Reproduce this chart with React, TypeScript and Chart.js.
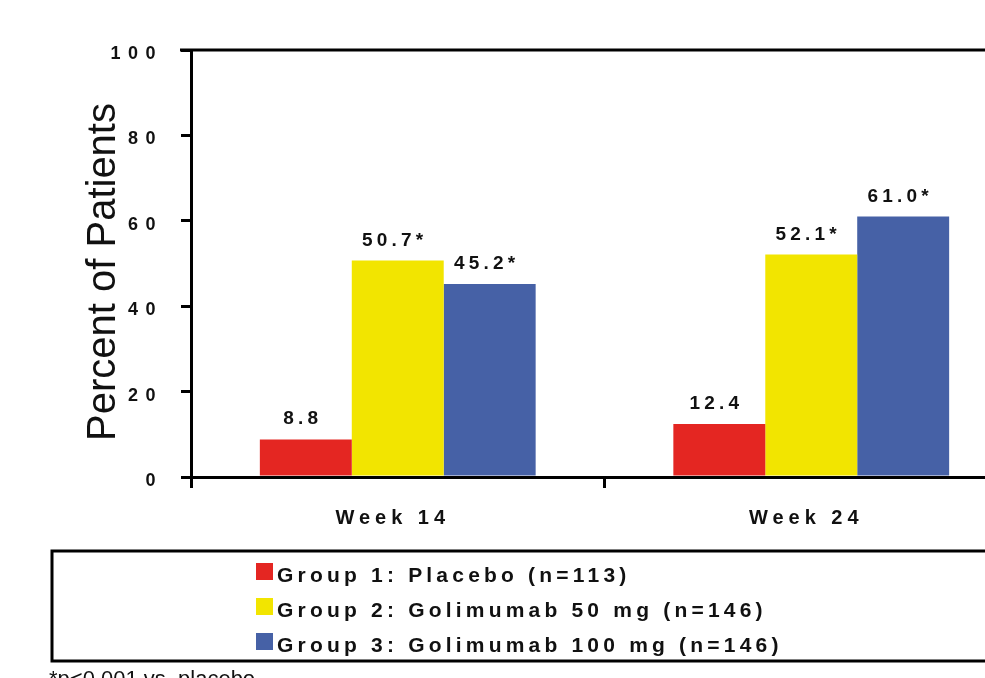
import React, { useEffect, useRef } from 'react';
import { Chart, registerables } from 'chart.js';

Chart.register(...registerables);

const FONT = '"Liberation Sans", Arial, Helvetica, sans-serif';

// Response rates (% of patients) per visit
const categories = ['Week 14', 'Week 24'];
const placeboPct = [8.8, 12.4];
const golimumab50Pct = [50.7, 52.1];
const golimumab100Pct = [45.2, 61.0];

// p<0.001 vs. placebo markers
const placeboSig = [false, false];
const golimumab50Sig = [true, true];
const golimumab100Sig = [true, true];

const seriesNames = [
  'Group 1: Placebo (n=113)',
  'Group 2: Golimumab 50 mg (n=146)',
  'Group 3: Golimumab 100 mg (n=146)',
];
const seriesColors = ['#E42622', '#F2E500', '#4661A6'];

const yTickValues = [0, 20, 40, 60, 80, 100];
const yAxisTitle = 'Percent of Patients';
const footnote = '*p<0.001 vs. placebo';

const CANVAS_W = 1030;
const CANVAS_H = 678;

// Wide letter tracking on the tick labels of each axis
const scaleTracking: Record<string, string> = { x: '5px', y: '7.5px' };
const scaleTrackingPlugin = {
  id: 'scaleTracking',
  afterUpdate(chart: any) {
    Object.keys(scaleTracking).forEach((id) => {
      const sc = chart.scales[id];
      if (!sc || sc.__tracked) return;
      const orig = sc.drawLabels;
      sc.drawLabels = function (area: any) {
        const c = this.ctx;
        c.save();
        c.letterSpacing = scaleTracking[id];
        orig.call(this, area);
        c.restore();
      };
      sc.__tracked = true;
    });
  },
};

// Top frame line continuing from the 100% tick
const topFramePlugin = {
  id: 'topFrame',
  afterDraw(chart: any) {
    const { ctx, chartArea } = chart;
    ctx.save();
    ctx.strokeStyle = '#000';
    ctx.lineWidth = 3;
    ctx.beginPath();
    ctx.moveTo(chartArea.left - 11, chartArea.top);
    ctx.lineTo(chart.width, chartArea.top);
    ctx.stroke();
    ctx.restore();
  },
};

// Value labels above each bar
const valueLabelPlugin = {
  id: 'valueLabels',
  afterDatasetsDraw(chart: any) {
    const { ctx } = chart;
    ctx.save();
    ctx.letterSpacing = '4.2px';
    ctx.font = `bold 19px ${FONT}`;
    ctx.fillStyle = '#111';
    ctx.textAlign = 'center';
    ctx.textBaseline = 'alphabetic';
    chart.data.datasets.forEach((ds: any, i: number) => {
      const meta = chart.getDatasetMeta(i);
      meta.data.forEach((bar: any, j: number) => {
        const v = ds.data[j] as number;
        const text = v.toFixed(1) + (ds.sig[j] ? '*' : '');
        ctx.fillText(text, bar.x - 3, bar.y - 15);
      });
    });
    ctx.restore();
  },
};

// Rotated y-axis title, boxed legend and footnote
const annotationPlugin = {
  id: 'annotations',
  afterDraw(chart: any) {
    const { ctx } = chart;
    ctx.save();
    ctx.letterSpacing = '0px';
    ctx.fillStyle = '#111';
    ctx.font = `40px ${FONT}`;
    ctx.translate(115, 272);
    ctx.rotate(-Math.PI / 2);
    ctx.textAlign = 'center';
    ctx.textBaseline = 'alphabetic';
    ctx.fillText(yAxisTitle, 0, 0);
    ctx.restore();

    ctx.save();
    ctx.strokeStyle = '#000';
    ctx.lineWidth = 3;
    ctx.strokeRect(52, 551, chart.width + 20, 110);
    ctx.font = `bold 21px ${FONT}`;
    ctx.letterSpacing = '4.2px';
    ctx.textAlign = 'left';
    ctx.textBaseline = 'alphabetic';
    chart.data.datasets.forEach((ds: any, i: number) => {
      const top = 563 + i * 35;
      ctx.fillStyle = ds.backgroundColor;
      ctx.fillRect(256, top, 17, 17);
      ctx.fillStyle = '#111';
      ctx.fillText(ds.label, 277, top + 19);
    });
    ctx.letterSpacing = '0px';
    ctx.font = `22px ${FONT}`;
    ctx.fillText(footnote, 49, 686);
    ctx.restore();
  },
};

export default function App() {
  const canvasRef = useRef<HTMLCanvasElement | null>(null);

  useEffect(() => {
    const canvas = canvasRef.current;
    if (!canvas) return;
    const seriesData = [placeboPct, golimumab50Pct, golimumab100Pct];
    const seriesSig = [placeboSig, golimumab50Sig, golimumab100Sig];

    const chart = new Chart(canvas, {
      type: 'bar',
      data: {
        labels: categories,
        datasets: seriesData.map((data, i) => ({
          label: seriesNames[i],
          data,
          sig: seriesSig[i],
          backgroundColor: seriesColors[i],
          borderWidth: 0,
          categoryPercentage: 0.667,
          barPercentage: 1.0,
        })) as any,
      },
      options: {
        responsive: false,
        animation: false,
        devicePixelRatio: 1,
        layout: { padding: { top: 50, right: 12, bottom: 141, left: 0 } },
        plugins: {
          legend: { display: false },
          tooltip: { enabled: false },
        },
        scales: {
          x: {
            offset: true,
            grid: {
              display: true,
              offset: true,
              drawOnChartArea: false,
              drawTicks: true,
              tickLength: 11,
              color: '#000',
              lineWidth: 3,
            },
            border: { display: true, color: '#000', width: 3, z: 1 },
            ticks: {
              color: '#111',
              font: { family: FONT, size: 20, weight: 'bold' },
              padding: 18,
              labelOffset: -5,
            },
            afterFit: (s: any) => {
              s.height = 60;
            },
          },
          y: {
            min: 0,
            max: 100,
            afterBuildTicks: (s: any) => {
              s.ticks = yTickValues.map((v) => ({ value: v }));
            },
            grid: {
              drawOnChartArea: false,
              drawTicks: true,
              tickLength: 10,
              color: '#000',
              lineWidth: 3,
            },
            border: { display: true, color: '#000', width: 3, z: 1 },
            ticks: {
              color: '#111',
              font: { family: FONT, size: 18, weight: 'bold' },
              padding: 18,
              labelOffset: 4,
            },
            afterFit: (s: any) => {
              s.width = 191;
            },
          },
        },
      } as any,
      plugins: [scaleTrackingPlugin, topFramePlugin, valueLabelPlugin, annotationPlugin],
    });

    return () => chart.destroy();
  }, []);

  return (
    <div
      style={{
        position: 'fixed',
        left: 0,
        top: 0,
        width: 985,
        height: 678,
        overflow: 'hidden',
        background: '#fff',
      }}
    >
      <canvas
        ref={canvasRef}
        width={CANVAS_W}
        height={CANVAS_H}
        style={{ display: 'block' }}
      />
    </div>
  );
}
